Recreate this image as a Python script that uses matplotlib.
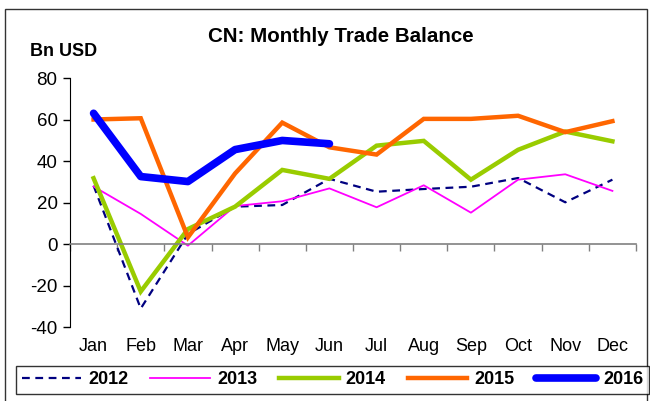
import numpy as np
import matplotlib
matplotlib.use("Agg")
import matplotlib.pyplot as plt
from matplotlib.patches import Rectangle

plt.rcParams['font.family'] = ['Liberation Sans', 'DejaVu Sans']
plt.rcParams['axes.unicode_minus'] = False

months = ["Jan", "Feb", "Mar", "Apr", "May", "Jun", "Jul", "Aug", "Sep", "Oct", "Nov", "Dec"]
y2012 = [28.1, -31.1, 4.8, 18.0, 18.8, 31.4, 25.2, 26.5, 27.6, 31.8, 20.1, 31.0]
y2013 = [27.7, 14.5, -0.8, 18.3, 20.6, 26.8, 17.7, 28.3, 15.1, 31.0, 33.6, 25.6]
y2014 = [31.7, -22.9, 7.2, 18.0, 35.7, 31.4, 47.4, 49.7, 31.0, 45.4, 54.2, 49.5]
y2015 = [60.0, 60.6, 3.2, 34.0, 58.5, 46.6, 43.1, 60.3, 60.3, 61.8, 53.9, 59.2]
y2016 = [63.0, 32.5, 30.1, 45.5, 49.9, 48.3]

W, H = 650, 401
fig = plt.figure(figsize=(W / 100, H / 100), dpi=100)
fig.patch.set_facecolor("white")

# outer frame
fig.add_artist(Rectangle((5 / W, -0.05), (647 - 5) / W, 1.05 - 9 / H, transform=fig.transFigure,
                         fill=False, edgecolor="#333333", lw=1.0))

ax = fig.add_axes([70 / W, (H - 327) / H, (636 - 70) / W, (327 - 78) / H])
x = np.arange(len(months))

ax.plot(x, y2012, color="#000080", lw=1.6, ls=(0, (3.5, 2.5)), label="2012")
ax.plot(x, y2013, color="#FF00FF", lw=1.3, label="2013")
ax.plot(x, y2014, color="#99CC00", lw=3.2, label="2014", solid_joinstyle="miter")
ax.plot(x, y2015, color="#FF6600", lw=3.2, label="2015", solid_joinstyle="miter")
ax.plot(x[:len(y2016)], y2016, color="#0000FF", lw=5.5, label="2016", solid_capstyle="round")

ax.set_xlim(-0.5, 11.5)
ax.set_ylim(-40, 80)
ax.set_yticks(np.arange(-40, 81, 20))
ax.tick_params(axis="y", direction="out", length=5, width=1, labelsize=13.5, colors="black", pad=4)

for s in ["top", "right"]:
    ax.spines[s].set_visible(False)
ax.spines["left"].set_color("black")
ax.spines["bottom"].set_position(("data", 0))
ax.spines["bottom"].set_color("#808080")
ax.spines["bottom"].set_linewidth(1.2)
ax.set_xticks(np.arange(-0.5, 12, 1.0))
ax.set_xticklabels([])
ax.tick_params(axis="x", direction="out", length=5, width=1, colors="#808080")

sec = ax.secondary_xaxis("bottom")
sec.set_xticks(x)
sec.set_xticklabels(months)
sec.tick_params(axis="x", length=0, labelsize=13, pad=8)
sec.spines["bottom"].set_visible(False)

fig.text(341 / W, 1 - 37 / H, "CN: Monthly Trade Balance", ha="center", va="center",
         fontsize=14.8, fontweight="bold")
fig.text(30 / W, 1 - 52 / H, "Bn USD", ha="left", va="center", fontsize=13, fontweight="bold")

leg = fig.legend(loc="center", bbox_to_anchor=(332.5 / W, 1 - 380 / H), ncol=5, frameon=True,
                 fancybox=False, edgecolor="black", handlelength=3.3, handletextpad=0.4,
                 columnspacing=1.2, borderpad=0.3, prop={"weight": "bold", "size": 13})
leg.get_frame().set_linewidth(1.0)

fig.savefig("out.png", dpi=100)
